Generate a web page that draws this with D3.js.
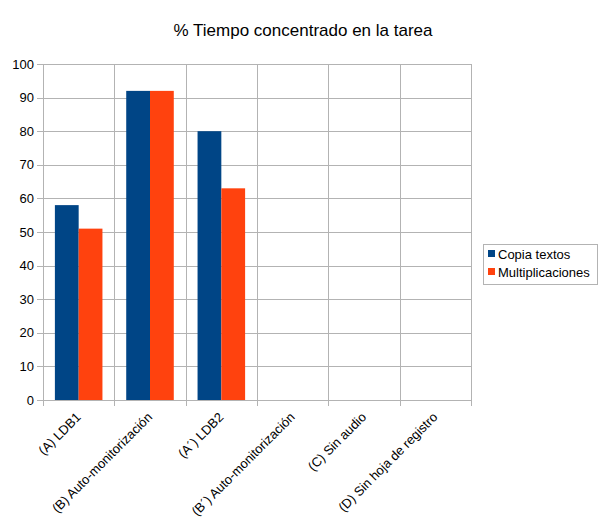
<!DOCTYPE html>
<html>
<head>
<meta charset="utf-8">
<script src="https://cdn.jsdelivr.net/npm/d3@7"></script>
<style>
  body { margin: 0; background: #fff; }
  svg text { font-family: "Liberation Sans", Arial, sans-serif; fill: #000; }
</style>
</head>
<body>
<svg id="chart" width="605" height="529"></svg>
<script>
// datos
var categorias = ['(A) LDB1', '(B) Auto-monitorización', '(A\u00b4) LDB2', '(B\u00b4) Auto-monitorización', '(C) Sin audio', '(D) Sin hoja de registro'];
var copiaTextos = [58, 92, 80, null, null, null];
var multiplicaciones = [51, 92, 63, null, null, null];
var series = ['Copia textos', 'Multiplicaciones'];
var colores = ['#004586', '#ff420e'];
var yTicks = [0, 10, 20, 30, 40, 50, 60, 70, 80, 90, 100];

var svg = d3.select('#chart');
var mLeft = 43, mRight = 471, mTop = 64, mBottom = 400;

var x = d3.scaleBand().domain(categorias).range([mLeft, mRight]).paddingInner(0).paddingOuter(0);
var y = d3.scaleLinear().domain([0, 100]).range([mBottom, mTop]);
var xs = d3.scaleBand().domain(series).range([0, x.bandwidth()]).paddingInner(0).paddingOuter(0.5);

// titulo
svg.append('text')
  .attr('x', 303).attr('y', 36)
  .attr('text-anchor', 'middle')
  .style('font-size', '17px')
  .text('% Tiempo concentrado en la tarea');

// rejilla horizontal
svg.append('g').selectAll('line').data(yTicks).enter().append('line')
  .attr('x1', mLeft - 6).attr('x2', mRight)
  .attr('y1', function(d){ return Math.round(y(d)) + 0.5; })
  .attr('y2', function(d){ return Math.round(y(d)) + 0.5; })
  .attr('stroke', '#b3b3b3');

// rejilla vertical
var limites = categorias.map(function(c){ return x(c); }).concat([mRight]);
svg.append('g').selectAll('line').data(limites).enter().append('line')
  .attr('x1', function(d){ return Math.round(d) + 0.5; })
  .attr('x2', function(d){ return Math.round(d) + 0.5; })
  .attr('y1', mTop).attr('y2', mBottom + 6)
  .attr('stroke', '#b3b3b3');

// etiquetas eje y
svg.append('g').selectAll('text').data(yTicks).enter().append('text')
  .attr('x', mLeft - 9)
  .attr('y', function(d){ return y(d) + 4.5; })
  .attr('text-anchor', 'end')
  .style('font-size', '13px')
  .text(function(d){ return d; });

// barras
var valores = [copiaTextos, multiplicaciones];
series.forEach(function(s, k){
  svg.append('g').selectAll('rect')
    .data(categorias.map(function(c, i){ return {c: c, v: valores[k][i]}; }).filter(function(d){ return d.v != null; }))
    .enter().append('rect')
    .attr('x', function(d){ return x(d.c) + xs(s); })
    .attr('width', xs.bandwidth())
    .attr('y', function(d){ return y(d.v); })
    .attr('height', function(d){ return y(0) - y(d.v); })
    .attr('fill', colores[k]);
});

// etiquetas eje x
svg.append('g').selectAll('text').data(categorias).enter().append('text')
  .attr('transform', function(d){ return 'translate(' + (x(d) + x.bandwidth() / 2 + 3) + ',' + (mBottom + 18) + ') rotate(-45)'; })
  .attr('text-anchor', 'end')
  .style('font-size', '13px')
  .text(function(d){ return d; });

// leyenda
var leg = svg.append('g');
leg.append('rect')
  .attr('x', 483.5).attr('y', 244.5).attr('width', 114).attr('height', 40)
  .attr('fill', '#fff').attr('stroke', '#b3b3b3');
series.forEach(function(s, k){
  leg.append('rect')
    .attr('x', 488).attr('y', 250 + k * 18).attr('width', 7).attr('height', 7)
    .attr('fill', colores[k]);
  leg.append('text')
    .attr('x', 498).attr('y', 259 + k * 18)
    .style('font-size', '13px')
    .text(s);
});
</script>
</body>
</html>
